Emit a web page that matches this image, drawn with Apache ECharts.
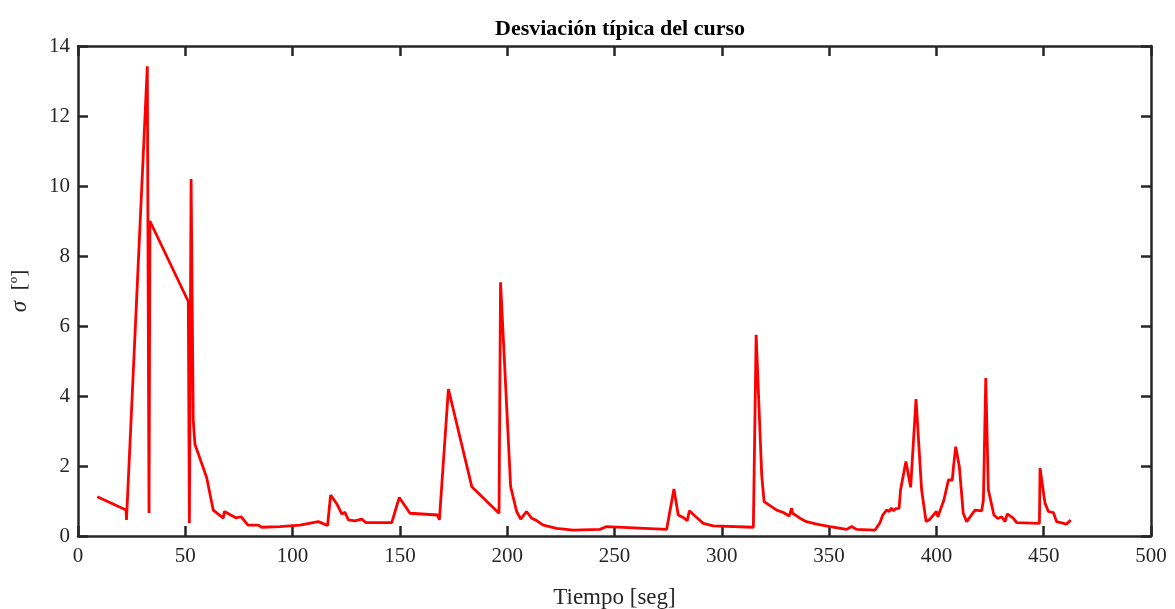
<!DOCTYPE html>
<html>
<head>
<meta charset="utf-8">
<script src="https://cdn.jsdelivr.net/npm/echarts@6/dist/echarts.min.js"></script>
<style>
html,body{margin:0;padding:0;background:#fff;}
#chart{width:1175px;height:609px;}
</style>
</head>
<body>
<div id="chart"></div>
<script>
var titleText = 'Desviación típica del curso';
var xName = 'Tiempo [seg]';
var xTicks = [0, 50, 100, 150, 200, 250, 300, 350, 400, 450, 500];
var yTicks = [0, 2, 4, 6, 8, 10, 12, 14];

var times = [9.0, 22.4, 22.6, 32.3, 33.1, 33.5, 51.4, 51.9, 52.7, 53.7, 54.5, 60.0, 63.0, 67.7, 68.2, 73.5, 76.0, 79.2, 84.0, 85.6, 94.0,
  103.4, 112.0, 116.3, 117.7, 120.5, 122.9, 124.4, 126.0, 129.0, 132.2, 134.2, 146.2, 149.7, 154.7, 167.6, 168.4, 172.6, 183.5, 196.2, 196.9,
  201.6, 204.4, 206.3, 209.0, 211.4, 213.7, 216.8, 223.0, 230.8, 243.2, 246.4, 274.3, 277.7, 279.7, 282.0, 283.9, 284.9, 287.5, 291.4, 296.0,
  314.7, 316.0, 318.6, 319.7, 325.6, 328.7, 331.4, 332.5, 333.0, 336.4, 339.5, 344.2, 350.4, 358.2, 360.5, 362.8, 371.4, 373.7, 375.0, 376.8,
  378.0, 379.0, 380.0, 381.0, 382.6, 383.3, 385.8, 388.0, 390.5, 393.1, 395.2, 397.0, 400.0, 400.7, 403.5, 405.6, 407.4, 407.9, 409.0, 410.7,
  412.5, 414.1, 418.0, 421.1, 421.9, 423.0, 424.2, 425.0, 426.8, 428.6, 430.4, 432.0, 433.0, 435.8, 437.4, 448.0, 448.3, 450.6, 452.2, 454.5,
  456.0, 460.7, 462.6];
var sigma = [1.12, 0.74, 0.46, 13.42, 0.66, 9.0, 6.70, 0.37, 10.2, 3.3, 2.62, 1.66, 0.74, 0.51, 0.70, 0.52, 0.55, 0.31, 0.31, 0.25, 0.27,
  0.31, 0.41, 0.30, 1.17, 0.93, 0.63, 0.68, 0.46, 0.43, 0.48, 0.38, 0.38, 1.10, 0.65, 0.60, 0.46, 4.20, 1.41, 0.65, 7.25,
  1.41, 0.70, 0.48, 0.70, 0.51, 0.44, 0.31, 0.22, 0.17, 0.19, 0.27, 0.19, 1.34, 0.60, 0.53, 0.44, 0.72, 0.57, 0.36, 0.29,
  0.25, 5.75, 1.74, 0.98, 0.74, 0.67, 0.57, 0.79, 0.65, 0.51, 0.41, 0.34, 0.27, 0.19, 0.27, 0.19, 0.17, 0.38, 0.60, 0.74,
  0.70, 0.80, 0.72, 0.78, 0.79, 1.32, 2.13, 1.39, 3.91, 1.32, 0.41, 0.48, 0.70, 0.55, 1.03, 1.60, 1.60, 1.94, 2.55, 1.98,
  0.65, 0.41, 0.74, 0.72, 1.03, 4.51, 1.32, 1.30, 0.60, 0.50, 0.55, 0.41, 0.63, 0.51, 0.38, 0.36, 1.94, 0.94, 0.70, 0.67,
  0.41, 0.34, 0.46];

var pts = times.map(function (t, i) { return [t, sigma[i]]; });

var axisCol = '#262626';
var fontFam = '"Liberation Serif", "DejaVu Serif", serif';
var chart = echarts.init(document.getElementById('chart'));
var xBase = {
  type: 'value', min: xTicks[0], max: xTicks[xTicks.length - 1], interval: 50,
  axisLine: { show: true, onZero: false, lineStyle: { color: axisCol, width: 2.5 } },
  axisTick: { show: true, inside: true, length: 10, lineStyle: { color: axisCol, width: 2.5 } },
  splitLine: { show: false }
};
var yBase = {
  type: 'value', min: yTicks[0], max: yTicks[yTicks.length - 1], interval: 2,
  axisLine: { show: true, onZero: false, lineStyle: { color: axisCol, width: 2.5 } },
  axisTick: { show: true, inside: true, length: 10, lineStyle: { color: axisCol, width: 2.5 } },
  splitLine: { show: false }
};
chart.setOption({
  animation: false,
  backgroundColor: '#ffffff',
  title: {
    text: titleText, left: 615, top: 13, textAlign: 'center',
    textStyle: { fontFamily: fontFam, fontWeight: 'bold', fontSize: 22, color: '#000' }
  },
  grid: { left: 78, right: 24, top: 46, bottom: 73, containLabel: false, outerBoundsMode: 'none' },
  xAxis: [
    Object.assign({}, xBase, {
      position: 'bottom',
      name: xName, nameLocation: 'middle', nameGap: 50,
      nameTextStyle: { fontFamily: fontFam, fontSize: 23, color: axisCol },
      axisLabel: { show: true, margin: 10, fontFamily: fontFam, fontSize: 21, color: axisCol }
    }),
    Object.assign({}, xBase, { position: 'top', axisLabel: { show: false } })
  ],
  yAxis: [
    Object.assign({}, yBase, {
      position: 'left',
      name: '{i|σ}  [º]', nameLocation: 'middle', nameGap: 47, nameRotate: 90,
      nameTextStyle: {
        fontFamily: fontFam, fontSize: 21, color: axisCol,
        rich: { i: { fontFamily: fontFam, fontStyle: 'italic', fontSize: 23, color: axisCol } }
      },
      axisLabel: { show: true, margin: 8, fontFamily: fontFam, fontSize: 21, color: axisCol }
    }),
    Object.assign({}, yBase, { position: 'right', axisLabel: { show: false } })
  ],
  series: [{
    type: 'line', xAxisIndex: 0, yAxisIndex: 0, data: pts,
    showSymbol: false, symbol: 'none',
    lineStyle: { color: '#ff0000', width: 2.8 },
    z: 1
  }]
});
</script>
</body>
</html>
